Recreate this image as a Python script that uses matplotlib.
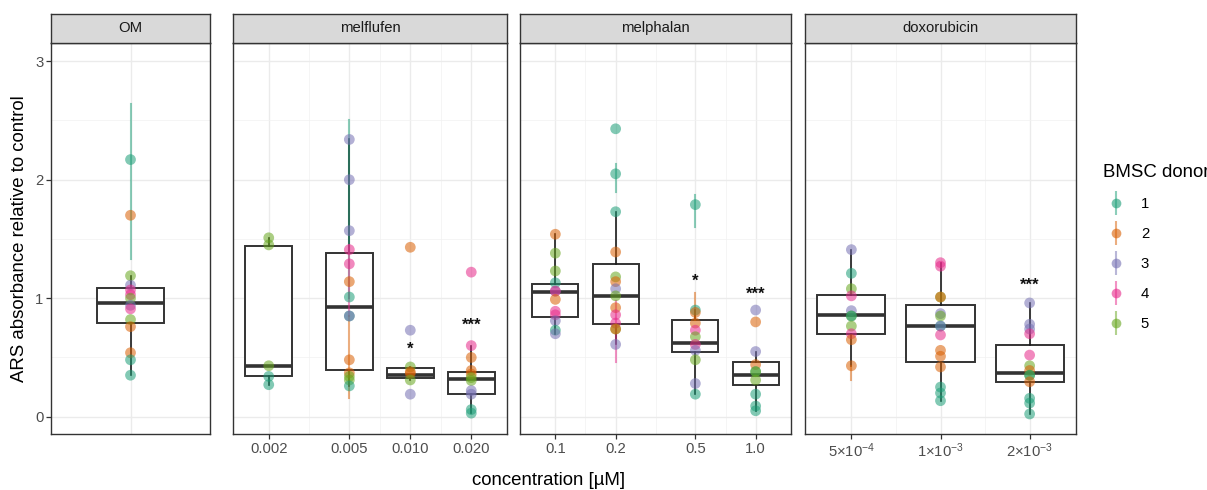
import numpy as np
import matplotlib.pyplot as plt
from matplotlib.lines import Line2D

plt.rcParams['font.family'] = ['Liberation Sans', 'DejaVu Sans']
plt.rcParams['mathtext.fontset'] = 'custom'
plt.rcParams['mathtext.rm'] = 'Liberation Sans'
plt.rcParams['mathtext.it'] = 'Liberation Sans'
plt.rcParams['mathtext.default'] = 'regular'

donor_colors = ['#1B9E77', '#D95F02', '#7570B3', '#E7298A', '#66A61E']
donor_labels = ['1', '2', '3', '4', '5']
panel_names = ['OM', 'melflufen', 'melphalan', 'doxorubicin']

# OM control
om_vals = [[2.17, 1.70, 1.19, 1.11, 1.07, 1.03, 1.00, 0.94, 0.91, 0.82, 0.76, 0.54, 0.48, 0.35]]
om_donor = [[1, 2, 5, 3, 4, 4, 5, 3, 4, 5, 2, 2, 1, 1]]
om_box = [[0.35, 0.79, 0.96, 1.09, 1.19]]  # whislo, q1, med, q3, whishi
om_stars = ['']
om_star_y = [np.nan]

# melflufen
mf_conc = [0.002, 0.005, 0.010, 0.020]
mf_labels = ['0.002', '0.005', '0.010', '0.020']
mf_vals = [
    [1.51, 1.45, 0.43, 0.34, 0.27],
    [2.34, 2.00, 1.57, 1.41, 1.29, 1.14, 1.01, 0.85, 0.85, 0.48, 0.37, 0.34, 0.31, 0.26],
    [1.43, 0.73, 0.42, 0.38, 0.365, 0.31, 0.19],
    [1.22, 0.60, 0.50, 0.39, 0.36, 0.33, 0.305, 0.22, 0.19, 0.06, 0.03],
]
mf_donor = [
    [5, 5, 5, 1, 1],
    [3, 3, 3, 4, 4, 2, 1, 1, 3, 2, 2, 5, 5, 1],
    [2, 3, 5, 2, 2, 5, 3],
    [4, 4, 2, 2, 2, 5, 5, 3, 3, 1, 1],
]
mf_box = [
    [0.27, 0.34, 0.43, 1.44, 1.51],
    [0.26, 0.39, 0.93, 1.38, 2.34],
    [0.31, 0.33, 0.35, 0.41, 0.42],
    [0.03, 0.19, 0.32, 0.38, 0.60],
]
mf_stars = ['', '', '*', '***']
mf_star_y = [np.nan, np.nan, 0.57, 0.77]

# melphalan
mp_conc = [0.1, 0.2, 0.5, 1.0]
mp_labels = ['0.1', '0.2', '0.5', '1.0']
mp_vals = [
    [1.54, 1.38, 1.23, 1.13, 1.06, 1.06, 0.99, 0.89, 0.86, 0.81, 0.73, 0.70],
    [2.43, 2.05, 1.73, 1.39, 1.18, 1.14, 1.08, 1.02, 0.92, 0.86, 0.79, 0.74, 0.74, 0.61],
    [1.79, 0.90, 0.88, 0.79, 0.73, 0.675, 0.61, 0.56, 0.48, 0.28, 0.19],
    [0.90, 0.80, 0.55, 0.44, 0.38, 0.38, 0.31, 0.19, 0.09, 0.05],
]
mp_donor = [
    [2, 5, 5, 1, 3, 4, 2, 4, 4, 3, 1, 3],
    [1, 1, 1, 2, 5, 2, 3, 5, 2, 4, 4, 5, 2, 3],
    [1, 1, 2, 2, 4, 5, 4, 3, 5, 3, 1],
    [3, 2, 3, 2, 1, 5, 5, 1, 1, 1],
]
mp_box = [
    [0.70, 0.84, 1.05, 1.12, 1.54],
    [0.61, 0.785, 1.02, 1.29, 1.73],
    [0.19, 0.55, 0.625, 0.82, 0.90],
    [0.05, 0.27, 0.35, 0.46, 0.55],
]
mp_stars = ['', '', '*', '***']
mp_star_y = [np.nan, np.nan, 1.14, 1.03]

# doxorubicin
dx_conc = [5e-4, 1e-3, 2e-3]
dx_labels = ['5×10$^{-4}$', '1×10$^{-3}$', '2×10$^{-3}$']
dx_vals = [
    [1.41, 1.21, 1.08, 1.02, 0.895, 0.85, 0.85, 0.765, 0.70, 0.65, 0.43],
    [1.30, 1.27, 1.01, 1.01, 0.87, 0.85, 0.765, 0.765, 0.69, 0.56, 0.51, 0.42, 0.25, 0.20, 0.135],
    [0.96, 0.78, 0.74, 0.70, 0.52, 0.43, 0.39, 0.35, 0.35, 0.295, 0.155, 0.115, 0.023],
]
dx_donor = [
    [3, 1, 5, 4, 3, 5, 1, 5, 4, 2, 2],
    [4, 4, 5, 2, 3, 5, 1, 3, 4, 2, 2, 2, 1, 1, 1],
    [3, 3, 3, 4, 4, 5, 2, 5, 1, 2, 1, 1, 1],
]
dx_box = [
    [0.43, 0.70, 0.86, 1.03, 1.41],
    [0.135, 0.46, 0.765, 0.94, 1.30],
    [0.023, 0.295, 0.365, 0.605, 0.96],
]
dx_stars = ['', '', '***']
dx_star_y = [np.nan, np.nan, 1.11]

# per-donor ranges (panel index, condition index, donor, low, high)
err_panel = [0, 1, 1, 1, 2, 2, 2, 2, 3]
err_cond = [0, 1, 1, 1, 1, 1, 2, 2, 0]
err_donor = [1, 1, 4, 2, 1, 4, 1, 2, 2]
err_lo = [1.33, 1.00, 0.85, 0.16, 1.90, 0.46, 1.60, 0.82, 0.31]
err_hi = [2.64, 2.50, 1.45, 0.85, 2.13, 0.98, 1.87, 1.04, 0.43]

W, H = 1207, 490
fig = plt.figure(figsize=(W / 100, H / 100), dpi=100)

panel_px = [(51, 210), (233, 507), (520, 791), (805, 1076)]
top_px, bot_px, strip_top = 43, 434, 14
tick_col = '#4D4D4D'
edge_col = '#333333'

panels = [
    (om_vals, om_donor, om_box, om_stars, om_star_y, None, ['']),
    (mf_vals, mf_donor, mf_box, mf_stars, mf_star_y, mf_conc, mf_labels),
    (mp_vals, mp_donor, mp_box, mp_stars, mp_star_y, mp_conc, mp_labels),
    (dx_vals, dx_donor, dx_box, dx_stars, dx_star_y, dx_conc, dx_labels),
]

bw_log = 0.23
for i, (vals, donors, box, stars, star_y, conc, labels) in enumerate(panels):
    x0, x1 = panel_px[i]
    ax = fig.add_axes([x0 / W, 1 - bot_px / H, (x1 - x0) / W, (bot_px - top_px) / H])
    if conc is None:
        pos = np.array([1.0])
        width = 0.5
        ax.set_xlim(0.4, 1.6)
        ax.set_xticks(pos)
        ax.set_xticklabels(labels)
    else:
        pos = np.log10(conc)
        width = bw_log
        rng = pos[-1] - pos[0]
        marg = (rng + width) * 0.05 + width / 2
        ax.set_xlim(pos[0] - marg, pos[-1] + marg)
        ax.set_xticks(pos)
        ax.set_xticklabels(labels)
        ax.set_xticks((pos[:-1] + pos[1:]) / 2, minor=True)

    stats = [dict(whislo=b[0], q1=b[1], med=b[2], q3=b[3], whishi=b[4]) for b in box]
    ax.bxp(stats, positions=pos, widths=width, showfliers=False, showcaps=False,
           patch_artist=True,
           boxprops=dict(facecolor='white', edgecolor=edge_col, linewidth=1.4),
           medianprops=dict(color=edge_col, linewidth=2.6, solid_capstyle='butt'),
           whiskerprops=dict(color='#1A1A1A', linewidth=1.2),
           zorder=2, manage_ticks=False)

    for j in range(len(vals)):
        cols = [donor_colors[d - 1] for d in donors[j]]
        ax.scatter(np.full(len(vals[j]), pos[j]), vals[j], s=60, c=cols,
                   alpha=0.55, linewidths=0, zorder=4)
        if stars[j]:
            ax.text(pos[j], star_y[j], stars[j], ha='center', va='center',
                    fontsize=12, fontweight='bold', color='#111111', zorder=5)

    for k in range(len(err_panel)):
        if err_panel[k] == i:
            ax.plot([pos[err_cond[k]]] * 2, [err_lo[k], err_hi[k]],
                    color=donor_colors[err_donor[k] - 1], alpha=0.5, lw=1.5, zorder=3)

    ax.set_ylim(-0.146, 3.154)
    ax.set_yticks([0, 1, 2, 3])
    ax.set_yticks([0.5, 1.5, 2.5], minor=True)
    ax.grid(which='major', color='#EBEBEB', linewidth=1.0, zorder=0)
    ax.grid(which='minor', color='#F2F2F2', linewidth=0.5, zorder=0)
    ax.set_axisbelow(True)
    for sp in ax.spines.values():
        sp.set_color(edge_col)
        sp.set_linewidth(1.0)
    ax.tick_params(axis='x', which='major', colors=edge_col, labelcolor=tick_col,
                   labelsize=10.7, length=3.5, width=0.9, pad=2)
    ax.tick_params(axis='x', which='minor', length=0)
    ax.tick_params(axis='y', which='minor', length=0)
    if i == 0:
        ax.tick_params(axis='y', which='major', colors=edge_col, labelcolor=tick_col,
                       labelsize=10.7, length=3.5, width=0.9, pad=2)
        ax.tick_params(axis='x', length=0)
    else:
        ax.tick_params(axis='y', which='major', left=False, labelleft=False)

    # strip
    sax = fig.add_axes([x0 / W, 1 - top_px / H, (x1 - x0) / W, (top_px - strip_top) / H])
    sax.set_facecolor('#D9D9D9')
    sax.set_xticks([])
    sax.set_yticks([])
    for sp in sax.spines.values():
        sp.set_color(edge_col)
        sp.set_linewidth(1.0)
    sax.text(0.5, 0.5, panel_names[i], ha='center', va='center', fontsize=10.7,
             color='#1A1A1A', transform=sax.transAxes)

fig.text(20 / W, 1 - 239 / H, 'ARS absorbance relative to control', rotation=90,
         ha='center', va='center', fontsize=13.4, color='black')
fig.text(549 / W, 1 - 480 / H, 'concentration [µM]', ha='center', va='center',
         fontsize=13.4, color='black')

handles = []
for c in donor_colors:
    handles.append((Line2D([], [], color=c, marker='|', markersize=17, mew=1.5,
                           ls='', alpha=0.5),
                    Line2D([], [], color=c, marker='o', markersize=7, ls='', alpha=0.6,
                           mew=0)))
fig.legend(handles, donor_labels, loc='upper left',
           bbox_to_anchor=(1100 / W, 1 - 161 / H), frameon=False,
           title='BMSC donor', title_fontsize=13.4, fontsize=10.7,
           labelspacing=1.08, handlelength=1.7, handletextpad=0.85,
           alignment='left', borderaxespad=0, borderpad=0.2)

fig.savefig('out.png', dpi=100)
